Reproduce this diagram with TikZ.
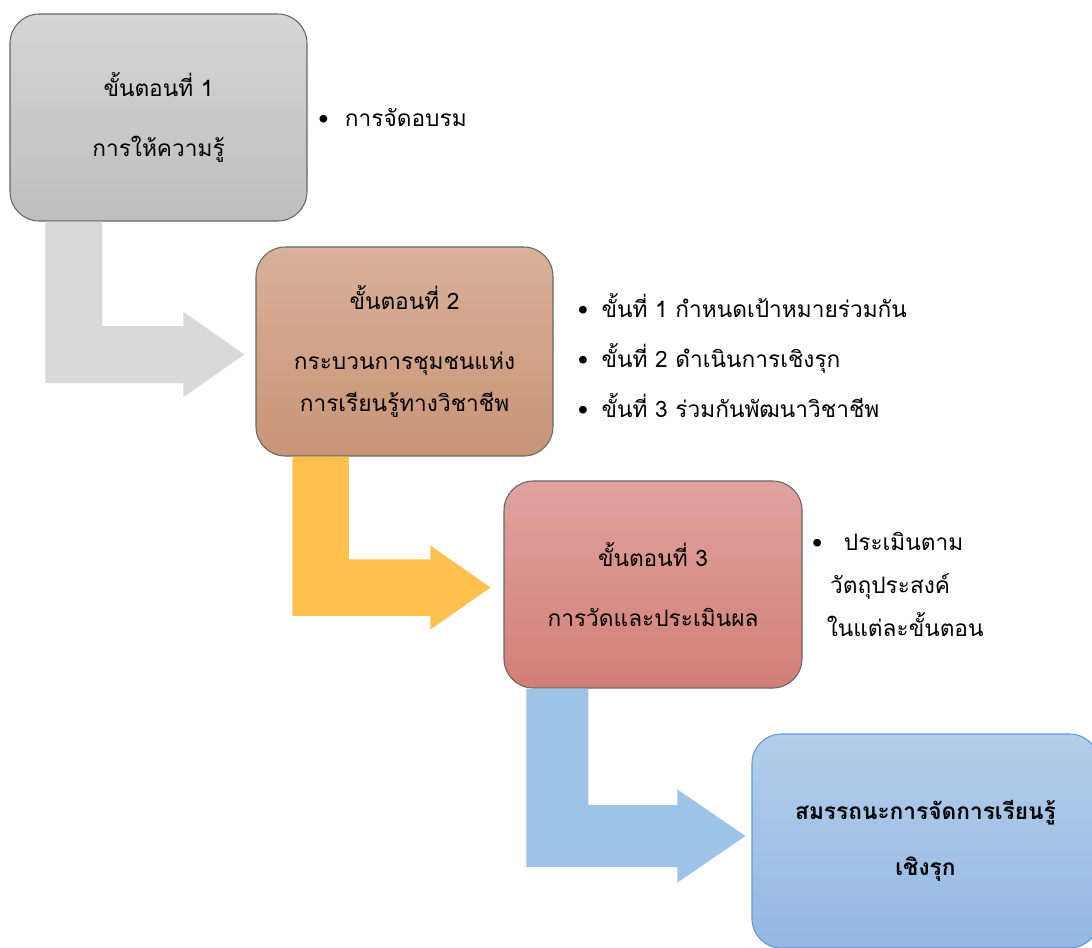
\documentclass[tikz,border=0pt]{standalone}
\usepackage{fontspec}
\setmainfont{Loma}[Script=Thai]
\usetikzlibrary{positioning, calc}

\definecolor{GreyTop}{HTML}{D5D5D5}
\definecolor{GreyBot}{HTML}{BEBEBE}
\definecolor{TanTop}{HTML}{D8B19A}
\definecolor{TanBot}{HTML}{C99476}
\definecolor{RoseTop}{HTML}{E0A39F}
\definecolor{RoseBot}{HTML}{D27F76}
\definecolor{SkyTop}{HTML}{B3CDEA}
\definecolor{SkyBot}{HTML}{94B8E3}
\definecolor{SkyEdge}{HTML}{5B9BD5}
\definecolor{ArrowGrey}{HTML}{D9D9D9}
\definecolor{ArrowGold}{HTML}{FFC04D}
\definecolor{ArrowBlue}{HTML}{9DC3E6}

\newcommand{\pxu}{0.75pt}
% bent block arrow: colour, from node, tip, stem offset, half width, head half height, head length
\newcommand{\bentarrow}[7]{%
  \fill[#1] let \p1=(#2.south west), \p2=(#3) in
    (\x1+#4*\pxu,\y1) -- (\x1+#4*\pxu+2*#5*\pxu,\y1)
    -- (\x1+#4*\pxu+2*#5*\pxu,\y2+#5*\pxu) -- (\x2-#7*\pxu,\y2+#5*\pxu)
    -- (\x2-#7*\pxu,\y2+#6*\pxu) -- (\x2,\y2)
    -- (\x2-#7*\pxu,\y2-#6*\pxu) -- (\x2-#7*\pxu,\y2-#5*\pxu)
    -- (\x1+#4*\pxu,\y2-#5*\pxu) -- cycle;}

\begin{document}
\begin{tikzpicture}[x=0.75pt, y=-0.75pt,
  stepbox/.style={draw=black!60, line width=0.8pt, rounded corners=22pt,
    align=center, font=\fontsize{17}{32}\selectfont},
  notelist/.style={align=left, inner sep=0pt}]
  \useasboundingbox (0,0) rectangle (1092,947);
  \clip (0,0) rectangle (1092,947);

  % the four steps
  \node[stepbox, top color=GreyTop, bottom color=GreyBot,
    minimum width=222.75pt, minimum height=155.25pt] (step1) at (158.5,117.5)
    {ขั้นตอนที่ 1\\[13pt]การให้ความรู้};
  \node[stepbox, top color=TanTop, bottom color=TanBot,
    minimum width=222.75pt, minimum height=156.75pt] (step2) at (404.5,351.5)
    {ขั้นตอนที่ 2\\[13pt]กระบวนการชุมชนแห่ง\\การเรียนรู้ทางวิชาชีพ};
  \node[stepbox, top color=RoseTop, bottom color=RoseBot,
    minimum width=223.5pt, minimum height=155.25pt] (step3) at (653,584.5)
    {ขั้นตอนที่ 3\\[13pt]การวัดและประเมินผล};
  \node[stepbox, draw=SkyEdge, top color=SkyTop, bottom color=SkyBot,
    minimum width=260.25pt, minimum height=160.5pt, font=\fontsize{17}{32}\selectfont\bfseries]
    (step4) at (925.5,841)
    {สมรรถนะการจัดการเรียนรู้\\[10pt]เชิงรุก};

  % notes beside the steps
  \node[notelist, right=8pt of step1, font=\fontsize{17}{32}\selectfont] (note1)
    {\textbullet\hspace{12pt}การจัดอบรม};
  \node[notelist, right=18pt of step2, yshift=-3pt, font=\fontsize{17}{37.5}\selectfont] (note2)
    {\textbullet\hspace{10pt}ขั้นที่ 1 กำหนดเป้าหมายร่วมกัน\\
     \textbullet\hspace{10pt}ขั้นที่ 2 ดำเนินการเชิงรุก\\
     \textbullet\hspace{10pt}ขั้นที่ 3 ร่วมกันพัฒนาวิชาชีพ};
  \node[notelist, right=7pt of step3, font=\fontsize{17}{32}\selectfont] (note3)
    {\textbullet\hspace{16pt}ประเมินตาม\\
     \hspace{13.5pt}วัตถุประสงค์\\
     \hspace{11pt}ในแต่ละขั้นตอน};

  % bent arrows
  \coordinate (tip1) at ($(step2.west)+(-11,3)$);
  \coordinate (tip2) at ($(step3.west)+(-13,3)$);
  \coordinate (tip3) at ($(step4.west)+(-6,-5)$);
  \bentarrow{ArrowGrey}{step1}{tip1}{36}{28.5}{42.5}{61}
  \bentarrow{ArrowGold}{step2}{tip2}{37}{28.25}{42}{60}
  \bentarrow{ArrowBlue}{step3}{tip3}{23}{31}{46.5}{68}
\end{tikzpicture}
\end{document}
